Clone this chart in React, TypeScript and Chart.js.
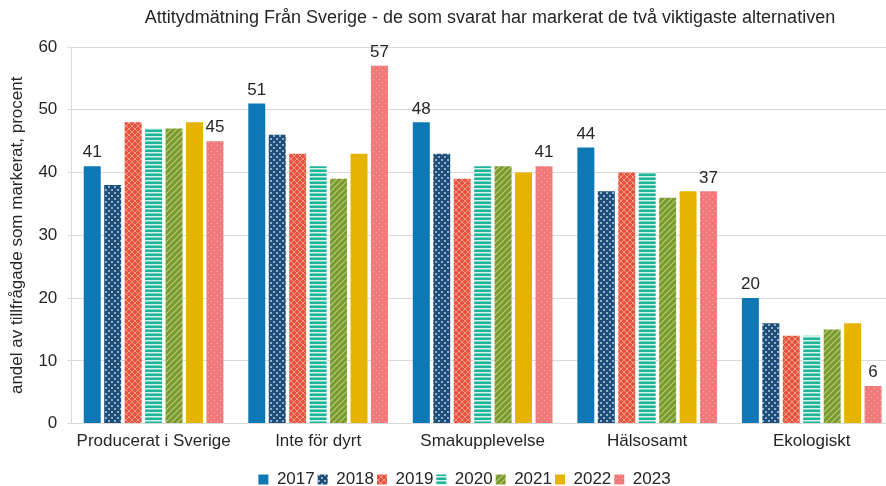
import React, { useEffect, useRef } from "react";
import { Chart, registerables } from "chart.js";

Chart.register(...registerables);

const categories = ["Producerat i Sverige", "Inte för dyrt", "Smakupplevelse", "Hälsosamt", "Ekologiskt"];
const years = ["2017", "2018", "2019", "2020", "2021", "2022", "2023"];
const v2017 = [41, 51, 48, 44, 20];
const v2018 = [38, 46, 43, 37, 16];
const v2019 = [48, 43, 39, 40, 14];
const v2020 = [47, 41, 41, 40, 14];
const v2021 = [47, 39, 41, 36, 15];
const v2022 = [48, 43, 40, 37, 16];
const v2023 = [45, 57, 41, 37, 6];
const labelledYears = ["2017", "2023"];
const yTicks = [0, 10, 20, 30, 40, 50, 60];
const titleText = "Attitydmätning Från Sverige - de som svarat har markerat de två viktigaste alternativen";
const yTitle = "andel av tillfrågade som markerat, procent";

const FONT = "'Liberation Sans', Arial, sans-serif";

function makePattern(kind: string, bg: string, fg: string): CanvasPattern | string {
  const c = document.createElement("canvas");
  const s = kind === "hstripe" ? 4 : 6;
  c.width = s;
  c.height = s;
  const g = c.getContext("2d");
  if (!g) return bg;
  g.fillStyle = bg;
  g.fillRect(0, 0, s, s);
  g.fillStyle = fg;
  g.strokeStyle = fg;
  if (kind === "dots") {
    g.fillRect(0, 0, 2, 2);
    g.fillRect(3, 3, 2, 2);
  } else if (kind === "smalldots") {
    g.globalAlpha = 0.55;
    g.fillRect(1, 1, 1, 1);
    g.fillRect(4, 4, 1, 1);
  } else if (kind === "cross") {
    g.lineWidth = 1;
    g.globalAlpha = 0.7;
    g.beginPath();
    g.moveTo(0, 0); g.lineTo(s, s);
    g.moveTo(s, 0); g.lineTo(0, s);
    g.stroke();
  } else if (kind === "hstripe") {
    g.fillRect(0, 0, s, 1.5);
  } else if (kind === "diag") {
    g.lineWidth = 1.2;
    g.globalAlpha = 0.6;
    g.beginPath();
    g.moveTo(0, s); g.lineTo(s, 0);
    g.moveTo(-s / 2, s / 2); g.lineTo(s / 2, -s / 2);
    g.moveTo(s / 2, s + s / 2); g.lineTo(s + s / 2, s / 2);
    g.stroke();
  }
  const p = g.createPattern(c, "repeat");
  return p || bg;
}

export default function App() {
  const ref = useRef<HTMLCanvasElement | null>(null);

  useEffect(() => {
    if (!ref.current) return;
    const fills = [
      "#0e77b5",
      makePattern("dots", "#1f4e79", "#8fb0cc"),
      makePattern("cross", "#e5533c", "#f7b8a8"),
      makePattern("hstripe", "#1db598", "#d8f3ec"),
      makePattern("diag", "#7a9a2c", "#dfe9b8"),
      "#e6b400",
      makePattern("smalldots", "#f07a7a", "#ffe0e0"),
    ];
    const series = [v2017, v2018, v2019, v2020, v2021, v2022, v2023];

    const titlePlugin = {
      id: "customTitle",
      afterDraw(chart: any) {
        const ctx = chart.ctx;
        ctx.save();
        ctx.font = `18px ${FONT}`;
        ctx.fillStyle = "#262626";
        ctx.textAlign = "center";
        ctx.textBaseline = "middle";
        ctx.fillText(titleText, 490, 18);
        ctx.restore();
      },
    };

    const legendShift = {
      id: "legendShift",
      afterLayout(chart: any) {
        const lg = chart.legend;
        if (lg) {
          lg.left += 14;
          lg.right += 14;
          lg.top += 8;
          lg.bottom += 8;
        }
      },
    };

    const labelPlugin = {
      id: "valueLabels",
      afterDatasetsDraw(chart: any) {
        const ctx = chart.ctx;
        ctx.save();
        ctx.font = `17px ${FONT}`;
        ctx.fillStyle = "#262626";
        ctx.textAlign = "center";
        ctx.textBaseline = "bottom";
        chart.data.datasets.forEach((ds: any, i: number) => {
          if (!labelledYears.includes(ds.label)) return;
          const meta = chart.getDatasetMeta(i);
          meta.data.forEach((el: any, j: number) => {
            ctx.fillText(String(ds.data[j]), el.x, el.y - 5);
          });
        });
        ctx.restore();
      },
    };

    const chart = new Chart(ref.current, {
      type: "bar",
      data: {
        labels: categories,
        datasets: years.map((y, i) => ({
          label: y,
          data: series[i],
          backgroundColor: fills[i] as any,
          borderWidth: 0,
          categoryPercentage: 0.87,
          barPercentage: 0.83,
        })),
      },
      options: {
        responsive: false,
        animation: false,
        layout: { padding: { top: 47, right: 0, left: 7, bottom: -4 } },
        plugins: {
          title: { display: false },
          tooltip: { enabled: false },
          legend: {
            position: "bottom",
            labels: {
              font: { family: FONT, size: 17 },
              color: "#262626",
              boxWidth: 10,
              boxHeight: 10,
              padding: 3,
            },
          },
        },
        scales: {
          x: {
            grid: { display: false, drawTicks: false },
            border: { color: "#d9d9d9", width: 1 },
            ticks: { font: { family: FONT, size: 17 }, color: "#262626", padding: 8 },
          },
          y: {
            min: 0,
            max: 60,
            afterBuildTicks(axis: any) {
              axis.ticks = yTicks.map((v) => ({ value: v }));
            },
            grid: { color: "#d9d9d9", drawTicks: true, tickLength: 4 },
            border: { display: true, color: "#d9d9d9" },
            ticks: { font: { family: FONT, size: 17 }, color: "#262626", padding: 10 },
            title: {
              display: true,
              text: yTitle,
              font: { family: FONT, size: 17 },
              color: "#262626",
              padding: { top: 0, bottom: 1 },
            },
          },
        },
      },
      plugins: [titlePlugin, labelPlugin, legendShift],
    });
    return () => chart.destroy();
  }, []);

  return (
    <div style={{ position: "fixed", left: 0, top: 0, width: 886, height: 486, overflow: "hidden", background: "#fff" }}>
      <canvas ref={ref} width={894} height={486} style={{ display: "block" }} />
    </div>
  );
}
